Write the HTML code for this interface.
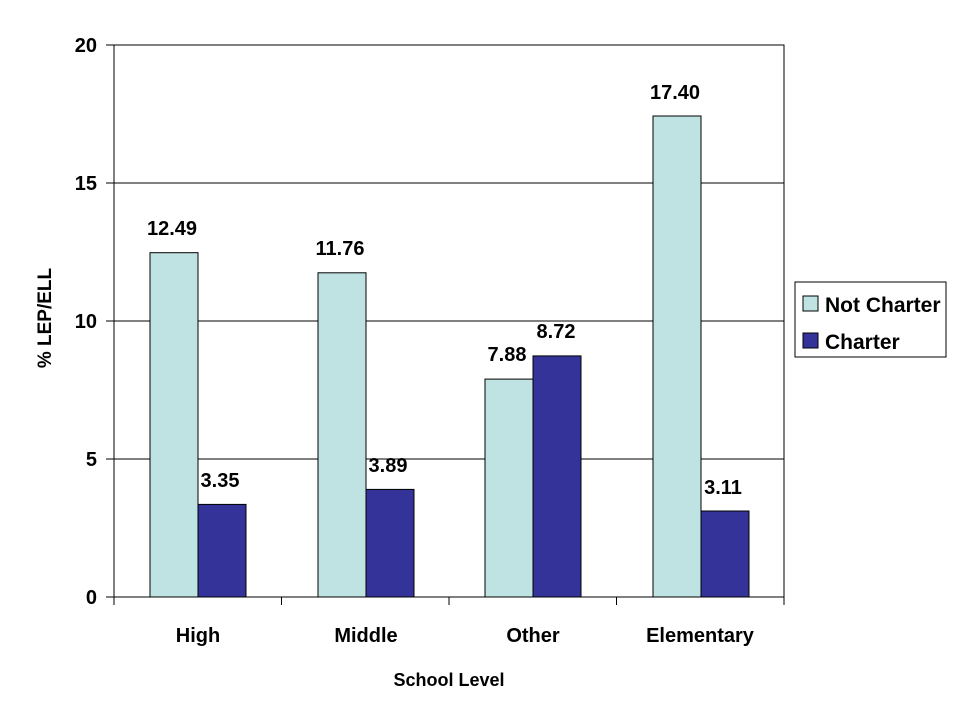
<!DOCTYPE html>
<html><head><style>body{margin:0;background:#fff}</style></head><body>
<svg width="960" height="720" viewBox="0 0 960 720" xmlns="http://www.w3.org/2000/svg" font-family="Liberation Sans, Arial, sans-serif" font-weight="bold">
<rect width="960" height="720" fill="#fff"/>
<rect x="114" y="45" width="670" height="552" fill="#fff" stroke="#000" stroke-width="1"/>
<g stroke="#000" stroke-width="1">
<line x1="114" y1="183" x2="784" y2="183"/>
<line x1="114" y1="321" x2="784" y2="321"/>
<line x1="114" y1="459" x2="784" y2="459"/>
<line x1="106" y1="45" x2="114" y2="45"/>
<line x1="106" y1="183" x2="114" y2="183"/>
<line x1="106" y1="321" x2="114" y2="321"/>
<line x1="106" y1="459" x2="114" y2="459"/>
<line x1="106" y1="597" x2="114" y2="597"/>
<line x1="114" y1="597" x2="114" y2="605"/>
<line x1="281.5" y1="597" x2="281.5" y2="605"/>
<line x1="449" y1="597" x2="449" y2="605"/>
<line x1="616.5" y1="597" x2="616.5" y2="605"/>
<line x1="784" y1="597" x2="784" y2="605"/>
</g>
<g stroke="#000" stroke-width="1">
<rect x="150" y="252.7" width="48" height="344.3" fill="#BFE2E2"/>
<rect x="198" y="504.4" width="48" height="92.6" fill="#333399"/>
<rect x="318" y="272.8" width="48" height="324.2" fill="#BFE2E2"/>
<rect x="366" y="489.4" width="48" height="107.6" fill="#333399"/>
<rect x="485" y="379.1" width="48" height="217.9" fill="#BFE2E2"/>
<rect x="533" y="355.9" width="48" height="241.1" fill="#333399"/>
<rect x="653" y="116" width="48" height="481" fill="#BFE2E2"/>
<rect x="701" y="511" width="48" height="86" fill="#333399"/>
</g>
<g font-size="20" text-anchor="middle" fill="#000">
<text x="172" y="235">12.49</text>
<text x="220" y="487">3.35</text>
<text x="340" y="255">11.76</text>
<text x="388" y="472">3.89</text>
<text x="507" y="361">7.88</text>
<text x="556" y="338">8.72</text>
<text x="675" y="99">17.40</text>
<text x="723" y="494">3.11</text>
</g>
<g font-size="20" text-anchor="end">
<text x="97" y="52">20</text>
<text x="97" y="190">15</text>
<text x="97" y="328">10</text>
<text x="97" y="466">5</text>
<text x="97" y="604">0</text>
</g>
<g font-size="20" text-anchor="middle">
<text x="198" y="642">High</text>
<text x="366" y="642">Middle</text>
<text x="533" y="642">Other</text>
<text x="700" y="642">Elementary</text>
</g>
<text x="449" y="686" font-size="18" text-anchor="middle">School Level</text>
<text transform="translate(51,318) rotate(-90)" font-size="19" text-anchor="middle">% LEP/ELL</text>
<rect x="795" y="282" width="151" height="75" fill="#fff" stroke="#000"/>
<rect x="803" y="296" width="15" height="15" fill="#BFE2E2" stroke="#000"/>
<rect x="803" y="333" width="15" height="15" fill="#333399" stroke="#000"/>
<text x="825" y="312" font-size="21">Not Charter</text>
<text x="825" y="349" font-size="21">Charter</text>
</svg>
</body></html>
